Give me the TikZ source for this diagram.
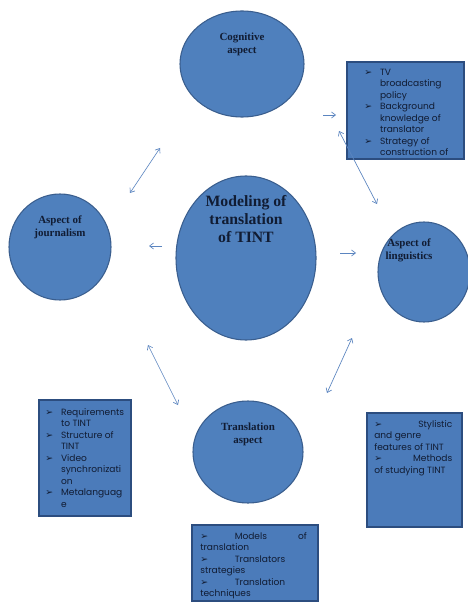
\documentclass[tikz,border=0pt]{standalone}
\usepackage{fontspec}
\usetikzlibrary{arrows.meta,shapes.geometric}
\setmainfont{Liberation Serif}
\newfontfamily\boxfont{Poppins}
\newfontfamily\symfont{DejaVu Sans}
\definecolor{fillblue}{HTML}{4F80BD}
\definecolor{edgeblue}{HTML}{3A5E8E}
\definecolor{boxblue}{HTML}{4B7BBA}
\definecolor{boxedge}{HTML}{2C4D7F}
\definecolor{arrowblue}{HTML}{5B85C0}
\definecolor{txtnavy}{HTML}{111C33}
\newcommand{\bul}{{\symfont\fontsize{7}{8}\selectfont ➢}}
\tikzset{
  aspect/.style={ellipse,draw=edgeblue,fill=fillblue,line width=0.8pt,inner sep=0pt},
  infobox/.style={draw=boxedge,fill=boxblue,line width=1pt},
  ttl/.style={font=\bfseries\fontsize{8.2}{9.6}\selectfont,text=txtnavy,align=center,inner sep=0pt},
  boxtxt/.style={font=\boxfont\fontsize{6.8}{8.6}\selectfont,text=txtnavy,inner sep=0pt,anchor=north west,align=left},
  link/.style={draw=arrowblue,line width=0.5pt},
  both/.style={link,{Straight Barb[length=3pt,width=4.5pt]}-{Straight Barb[length=3pt,width=4.5pt]}},
  one/.style={link,-{Straight Barb[length=3pt,width=4.5pt]}}
}
\begin{document}
\begin{tikzpicture}[x=0.75pt,y=-0.75pt]
\useasboundingbox (0,0) rectangle (467,602);
\fill[white] (0,0) rectangle (467,602);
% ellipses
\node[aspect,minimum width=93pt,minimum height=79.5pt] (cog) at (242,64) {};
\node[aspect,minimum width=76.5pt,minimum height=79.5pt] (jour) at (60,247) {};
\node[aspect,minimum width=105pt,minimum height=123pt] (main) at (246,258) {};
\node[aspect,minimum width=69pt,minimum height=75pt] (ling) at (424,272) {};
\node[aspect,minimum width=82.5pt,minimum height=76.5pt] (trans) at (248,452) {};
% titles
\node[ttl] (cogt) at (242,44) {Cognitive\\aspect};
\node[ttl] (jourt) at (60,227) {Aspect of\\journalism};
\node[ttl,font=\bfseries\fontsize{11.8}{13.5}\selectfont] (maint) at (246,219) {Modeling of\\translation\\of TINT};
\node[ttl] (lingt) at (409,250) {Aspect of\\linguistics};
\node[ttl] (transt) at (248,434) {Translation\\aspect};
% boxes
\draw[infobox] (347,62) rectangle (464,159);
\draw[infobox] (39,400) rectangle (131,516);
\draw[infobox] (367,413) rectangle (462,527);
\draw[infobox] (192,525) rectangle (318,601);
\node[boxtxt] (b1) at (364,67) {\begin{tabular}{@{}l@{\hspace{6pt}}l@{}}
\bul & TV\\ & broadcasting\\ & policy\\
\bul & Background\\ & knowledge of\\ & translator\\
\bul & Strategy of\\ & construction of
\end{tabular}};
\node[boxtxt] (b2) at (45,407) {\begin{tabular}{@{}l@{\hspace{6pt}}l@{}}
\bul & Requirements\\ & to TINT\\
\bul & Structure of\\ & TINT\\
\bul & Video\\ & synchronizati\\ & on\\
\bul & Metalanguag\\ & e
\end{tabular}};
\node[boxtxt] (b3) at (374,419) {\begin{tabular}{@{}l@{}}
\makebox[58.5pt][s]{\bul\hfill Stylistic}\\
and genre\\
features of TINT\\
\makebox[58.5pt][s]{\bul\hfill Methods}\\
of studying TINT
\end{tabular}};
\node[boxtxt] (b4) at (200,531) {\begin{tabular}{@{}l@{}}
\makebox[80pt][s]{\bul\hspace{20pt}Models\hfill of}\\
translation\\
\bul\hspace{20pt}Translators\\
strategies\\
\bul\hspace{20pt}Translation\\
techniques
\end{tabular}};
% connector end points
\coordinate (a1s) at (130,193); \coordinate (a1e) at (160,148);
\coordinate (a2s) at (162,246); \coordinate (a2e) at (149,246);
\coordinate (a3s) at (323,115); \coordinate (a3e) at (336,115);
\coordinate (a4s) at (339,131); \coordinate (a4e) at (377,204);
\coordinate (a5s) at (340,253); \coordinate (a5e) at (356,253);
\coordinate (a6s) at (327,393); \coordinate (a6e) at (352,338);
\coordinate (a7s) at (148,345); \coordinate (a7e) at (178,405);
\draw[both] (a1s) -- (a1e);
\draw[one] (a2s) -- (a2e);
\draw[one] (a3s) -- (a3e);
\draw[both] (a4s) -- (a4e);
\draw[one] (a5s) -- (a5e);
\draw[both] (a6s) -- (a6e);
\draw[both] (a7s) -- (a7e);
\end{tikzpicture}
\end{document}
